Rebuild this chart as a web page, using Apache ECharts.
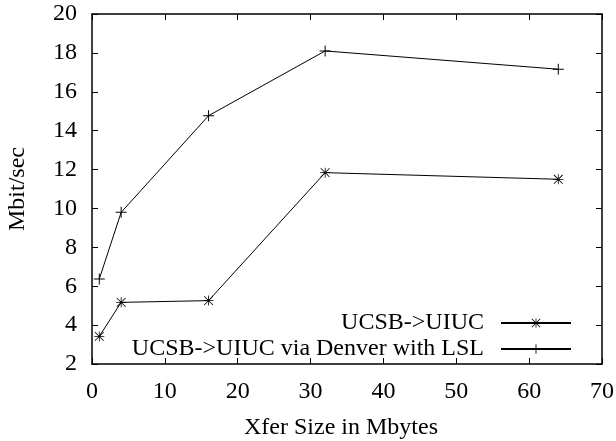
<!DOCTYPE html>
<html>
<head>
<meta charset="utf-8">
<script src="https://cdn.jsdelivr.net/npm/echarts@6/dist/echarts.min.js"></script>
<style>
  html, body { margin: 0; padding: 0; background: #fff; }
  #chart { width: 616px; height: 441px; }
</style>
</head>
<body>
<div id="chart"></div>
<script>
// Transfer sizes (Mbytes) and measured throughput (Mbit/sec)
const xferSizes = [1, 4, 16, 32, 64];
const directRate = [3.42, 5.17, 5.26, 11.84, 11.5];
const viaDenverRate = [6.37, 9.8, 14.77, 18.1, 17.16];
const seriesNames = ['UCSB->UIUC', 'UCSB->UIUC via Denver with LSL'];

const FONT = '"Liberation Serif", "Times New Roman", serif';
const FS = 24;

// gnuplot-style point shapes drawn as filled thin bars
const starSymbol = 'path://M0,4.6H10V5.4H0Z M4.6,0H5.4V10H4.6Z M0.3,0.9L0.9,0.3L9.7,9.1L9.1,9.7Z M9.1,0.3L9.7,0.9L0.9,9.7L0.3,9.1Z';
const plusSymbol = 'path://M0,4.55H10V5.45H0Z M4.55,0H5.45V10H4.55Z';

const toPairs = (xs, ys) => xs.map((x, i) => [x, ys[i]]);

const frameLine = { show: true, onZero: false, lineStyle: { color: '#000', width: 1.5 } };
const innerTick = { show: true, inside: true, length: 6, lineStyle: { color: '#000', width: 1 } };

const chart = echarts.init(document.getElementById('chart'), null, { renderer: 'canvas' });
chart.setOption({
  backgroundColor: '#fff',
  animation: false,
  textStyle: { fontFamily: FONT },
  grid: { left: 92, right: 14, top: 14, bottom: 77, containLabel: false, outerBoundsMode: 'none' },
  xAxis: [
    {
      type: 'value', position: 'bottom', min: 0, max: 70, interval: 10,
      axisLine: frameLine, axisTick: innerTick, splitLine: { show: false },
      axisLabel: { color: '#000', fontFamily: FONT, fontSize: FS, margin: 16 },
      name: 'Xfer Size in Mbytes', nameLocation: 'middle', nameGap: 52,
      nameTextStyle: { color: '#000', fontFamily: FONT, fontSize: FS, padding: [0, 12, 0, 0] }
    },
    {
      type: 'value', position: 'top', min: 0, max: 70, interval: 10,
      axisLine: frameLine, axisTick: innerTick, splitLine: { show: false },
      axisLabel: { show: false }
    }
  ],
  yAxis: [
    {
      type: 'value', position: 'left', min: 2, max: 20, interval: 2,
      axisLine: frameLine, axisTick: innerTick, splitLine: { show: false },
      axisLabel: { color: '#000', fontFamily: FONT, fontSize: FS, margin: 15 },
      name: 'Mbit/sec', nameLocation: 'middle', nameGap: 62, nameRotate: 90,
      nameTextStyle: { color: '#000', fontFamily: FONT, fontSize: FS }
    },
    {
      type: 'value', position: 'right', min: 2, max: 20, interval: 2,
      axisLine: frameLine, axisTick: innerTick, splitLine: { show: false },
      axisLabel: { show: false }
    }
  ],
  legend: {
    orient: 'vertical',
    align: 'right',
    right: 44,
    top: 311,
    padding: 0,
    itemGap: 2,
    itemWidth: 70,
    itemHeight: 12,
    textStyle: { color: '#000', fontFamily: FONT, fontSize: FS, lineHeight: 24, padding: [0, 12, 0, 0] },
    data: seriesNames
  },
  series: [
    {
      name: seriesNames[0], type: 'line', xAxisIndex: 0, yAxisIndex: 0,
      data: toPairs(xferSizes, directRate),
      symbol: starSymbol, symbolSize: 10, showAllSymbol: true,
      lineStyle: { color: '#000', width: 1 },
      itemStyle: { color: '#000' }
    },
    {
      name: seriesNames[1], type: 'line', xAxisIndex: 0, yAxisIndex: 0,
      data: toPairs(xferSizes, viaDenverRate),
      symbol: plusSymbol, symbolSize: 11, showAllSymbol: true,
      lineStyle: { color: '#000', width: 1 },
      itemStyle: { color: '#000' }
    }
  ]
});
</script>
</body>
</html>
